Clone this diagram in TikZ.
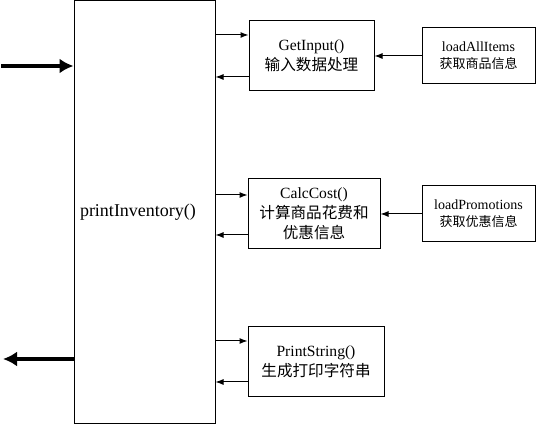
\documentclass[tikz,border=0pt]{standalone}
\usepackage{fontspec}
\setmainfont{Liberation Serif}
\newfontfamily\cjk{Noto Sans CJK SC}
\usetikzlibrary{arrows.meta,positioning}
\tikzset{
  funcbox/.style={draw, line width=1pt, align=center, inner sep=0pt, minimum height=70pt, font=\fontsize{15.6}{20}\selectfont},
  loadbox/.style={draw, line width=1pt, align=center, inner sep=0pt, minimum width=113pt, minimum height=56pt, font=\fontsize{14}{17}\selectfont},
  flow/.style={->, line width=1pt},
  bigflow/.style={-{Latex[length=14pt,width=15pt]}, line width=4pt},
}
\begin{document}
\begin{tikzpicture}[>={Latex[length=8pt,width=6pt]}, x=1pt, y=1pt]
		\useasboundingbox (0,0) rectangle (536,425);
		% boxes
		\node[draw, line width=1pt, inner sep=0pt, minimum width=141pt, minimum height=423pt, text width=129pt, align=left, font=\fontsize{18}{20}\selectfont] (main) at (144.5,213) {printInventory()};
		\node[funcbox, minimum width=125pt] (getinput) at (311.5,369) {GetInput()\\{\cjk 输入数据处理}};
		\node[funcbox, minimum width=132pt] (calccost) at (314,211) {CalcCost()\\{\cjk 计算商品花费和}\\{\cjk 优惠信息}};
		\node[funcbox, minimum width=136pt] (printstring) at (316,63) {PrintString()\\{\cjk 生成打印字符串}};
		\node[loadbox] (loaditems) at (478.5,369) {loadAllItems\\{\cjk\fontsize{13}{17}\selectfont 获取商品信息}};
		\node[loadbox] (loadpromo) at (478.5,211) {loadPromotions\\{\cjk\fontsize{13}{17}\selectfont 获取优惠信息}};
		% in and out of printInventory()
		\coordinate (start) at (1,359);
		\coordinate (result) at (3,66);
		\draw[bigflow] (start) -- (main.west |- start);
		\draw[bigflow] (main.west |- result) -- (result);
		% calls and returns
		\coordinate (gi call) at ([yshift=21pt]getinput.west);
		\coordinate (gi back) at ([yshift=-21pt]getinput.west);
		\coordinate (cc call) at ([yshift=19pt]calccost.west);
		\coordinate (cc back) at ([yshift=-21pt]calccost.west);
		\coordinate (ps call) at ([yshift=21pt]printstring.west);
		\coordinate (ps back) at ([yshift=-20pt]printstring.west);
		\draw[flow] (main.east |- gi call) -- (gi call);
		\draw[flow] (gi back) -- (main.east |- gi back);
		\draw[flow] (main.east |- cc call) -- (cc call);
		\draw[flow] (cc back) -- (main.east |- cc back);
		\draw[flow] (main.east |- ps call) -- (ps call);
		\draw[flow] (ps back) -- (main.east |- ps back);
		% data loaded
		\draw[flow] (loaditems) -- (getinput);
		\draw[flow] (loadpromo) -- (calccost);
\end{tikzpicture}
\end{document}
